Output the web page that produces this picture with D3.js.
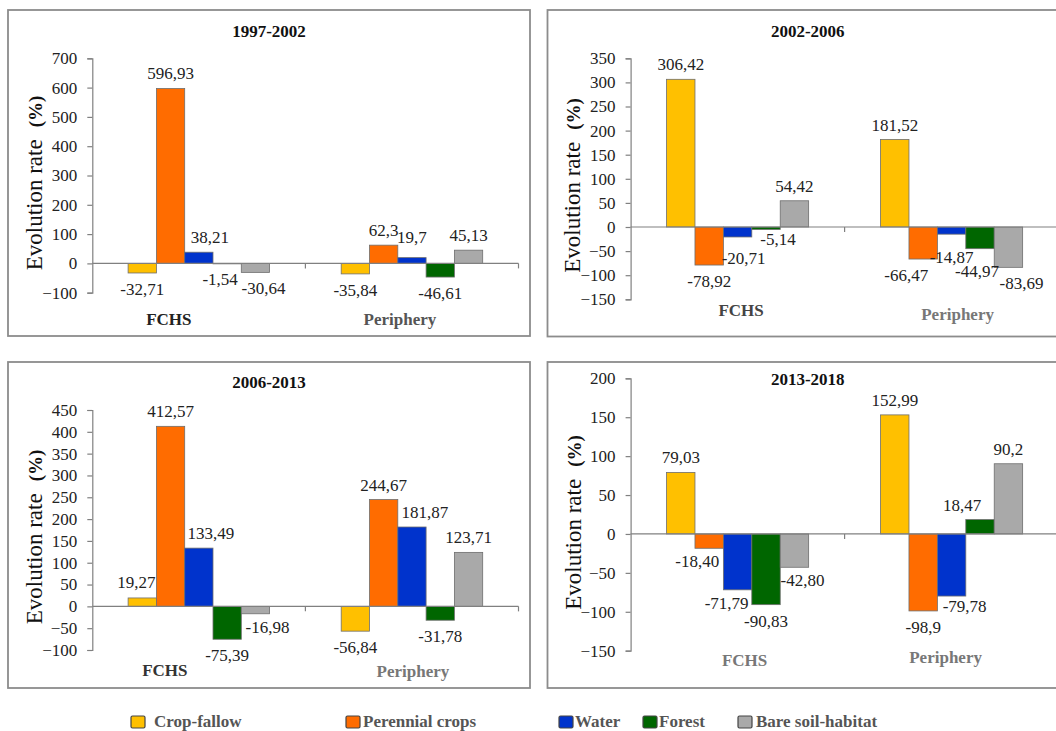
<!DOCTYPE html>
<html>
<head>
<meta charset="utf-8">
<script src="https://cdn.jsdelivr.net/npm/d3@7"></script>
<style>
  body { margin: 0; background: #fff; }
  svg { display: block; }
</style>
</head>
<body>
<div id="chart"></div>
<script>
// categories and series
const categories = ["FCHS", "Periphery"];
const seriesNames = ["Crop-fallow", "Perennial crops", "Water", "Forest", "Bare soil-habitat"];
const periods = ["1997-2002", "2002-2006", "2006-2013", "2013-2018"];

// evolution rates (%) as printed on the bars, one array per zone and period
const fchs9702 = ["-32,71", "596,93", "38,21", "-1,54", "-30,64"];
const peri9702 = ["-35,84", "62,3", "19,7", "-46,61", "45,13"];
const fchs0206 = ["306,42", "-78,92", "-20,71", "-5,14", "54,42"];
const peri0206 = ["181,52", "-66,47", "-14,87", "-44,97", "-83,69"];
const fchs0613 = ["19,27", "412,57", "133,49", "-75,39", "-16,98"];
const peri0613 = ["-56,84", "244,67", "181,87", "-31,78", "123,71"];
const fchs1318 = ["79,03", "-18,40", "-71,79", "-90,83", "-42,80"];
const peri1318 = ["152,99", "-98,9", "-79,78", "18,47", "90,2"];

// y axis tick values
const ticks9702 = [-100, 0, 100, 200, 300, 400, 500, 600, 700];
const ticks0206 = [-150, -100, -50, 0, 50, 100, 150, 200, 250, 300, 350];
const ticks0613 = [-100, -50, 0, 50, 100, 150, 200, 250, 300, 350, 400, 450];
const ticks1318 = [-150, -100, -50, 0, 50, 100, 150, 200];

const colors = ["#FFC000", "#FF6C00", "#0033CC", "#006600", "#A9A9A9"];
const serif = "'Liberation Serif', 'Times New Roman', serif";

const width = 1056, height = 731;

const svg = d3.select("#chart")
  .append("svg")
  .attr("width", width)
  .attr("height", height);

// layout of the four panels (pixels)
const panels = [
  { title: periods[0], rows: [fchs9702, peri9702], ticks: ticks9702,
    box: [8, 10, 530, 336], xr: [92.3, 518.5], yr: [292.7, 58.3], titleY: 37,
    labelC: [34.4, 183], catDx: [-30, -12], catY: [325, 325], catCol: ["#222", "#555"],
    nudge: { "0-2": [11, 0], "0-3": [-7, -1], "0-4": [8, 0], "1-2": [0, -6] } },
  { title: periods[1], rows: [fchs0206, peri0206], ticks: ticks0206,
    box: [547.5, 10, 1070, 336.5], xr: [630.6, 1058.6], yr: [299.3, 58.3], titleY: 37,
    labelC: [572, 185.5], catDx: [3.5, 6], catY: [316, 320], catCol: ["#444", "#777"],
    nudge: { "0-2": [6, 5], "0-3": [12, -6], "1-1": [-17, 0], "1-2": [0, 7], "1-3": [-3, 6], "1-4": [13, 0] } },
  { title: periods[2], rows: [fchs0613, peri0613], ticks: ticks0613,
    box: [8, 362, 530, 688], xr: [92.3, 518.5], yr: [650, 410], titleY: 388,
    labelC: [34.4, 537], catDx: [-34, 1], catY: [676, 677], catCol: ["#333", "#777"],
    nudge: { "0-0": [-6, -1], "0-2": [12, 0], "0-4": [12, -3], "1-2": [13, 0] } },
  { title: periods[3], rows: [fchs1318, peri1318], ticks: ticks1318,
    box: [547.5, 362, 1070, 688], xr: [630.6, 1058.6], yr: [650.7, 378.3], titleY: 385,
    labelC: [573, 522.5], catDx: [7, -6], catY: [666, 663], catCol: ["#777", "#777"],
    nudge: { "0-1": [-12, -3], "0-2": [-11, -3], "0-4": [8, -3], "1-2": [13, -6], "1-3": [-18, 0] } }
];

const num = s => +s.replace(",", ".");

panels.forEach(p => {
  const g = svg.append("g");

  // panel frame
  g.append("rect")
    .attr("x", p.box[0]).attr("y", p.box[1])
    .attr("width", p.box[2] - p.box[0]).attr("height", p.box[3] - p.box[1])
    .attr("fill", "none").attr("stroke", "#8c8c8c").attr("stroke-width", 1.8);

  // scales
  const y = d3.scaleLinear()
    .domain([p.ticks[0], p.ticks[p.ticks.length - 1]])
    .range(p.yr);
  const x0 = d3.scaleBand()
    .domain(categories)
    .range(p.xr);
  const bw = x0.bandwidth();
  const x1 = d3.scaleBand()
    .domain(seriesNames)
    .range([bw * 0.168, bw * 0.832]);

  // title
  g.append("text")
    .attr("x", (p.box[0] + Math.min(p.box[2], 1068)) / 2 + 0)
    .attr("y", p.titleY)
    .attr("text-anchor", "middle")
    .attr("font-family", serif).attr("font-weight", "bold").attr("font-size", 17)
    .attr("fill", "#111")
    .text(p.title);

  // y axis
  const yAxis = g.append("g")
    .attr("transform", `translate(${p.xr[0]},0)`)
    .call(d3.axisLeft(y).tickValues(p.ticks).tickSize(5).tickPadding(10).tickFormat(d3.format("d")));
  yAxis.selectAll("path, line").attr("stroke", "#808080").attr("stroke-width", 1.2);
  yAxis.selectAll("text")
    .attr("font-family", serif).attr("font-size", 17).attr("fill", "#222");

  // bars
  const bars = [];
  p.rows.forEach((row, ci) => {
    row.forEach((s, si) => {
      bars.push({ cat: categories[ci], ser: seriesNames[si], ci, si, v: num(s), label: s });
    });
  });

  g.selectAll("rect.bar")
    .data(bars)
    .join("rect")
    .attr("class", "bar")
    .attr("x", d => x0(d.cat) + x1(d.ser))
    .attr("y", d => y(Math.max(0, d.v)))
    .attr("width", x1.bandwidth())
    .attr("height", d => Math.abs(y(d.v) - y(0)))
    .attr("fill", d => colors[d.si])
    .attr("stroke", "#6e6e6e")
    .attr("stroke-width", 0.8);

  // x axis along zero, ticks at category boundaries
  const y0 = y(0);
  g.append("line")
    .attr("x1", p.xr[0]).attr("x2", p.xr[1])
    .attr("y1", y0).attr("y2", y0)
    .attr("stroke", "#808080").attr("stroke-width", 1.2);
  g.selectAll("line.ctick")
    .data(categories)
    .join("line")
    .attr("class", "ctick")
    .attr("x1", d => x0(d) + bw).attr("x2", d => x0(d) + bw)
    .attr("y1", y0).attr("y2", y0 + 5)
    .attr("stroke", "#808080").attr("stroke-width", 1.2);

  // value labels
  g.selectAll("text.val")
    .data(bars)
    .join("text")
    .attr("class", "val")
    .attr("x", d => {
      const n = p.nudge[`${d.ci}-${d.si}`] || [0, 0];
      return x0(d.cat) + x1(d.ser) + x1.bandwidth() / 2 + n[0];
    })
    .attr("y", d => {
      const n = p.nudge[`${d.ci}-${d.si}`] || [0, 0];
      return (d.v >= 0 ? y(d.v) - 9 : y(d.v) + 22) + n[1];
    })
    .attr("text-anchor", "middle")
    .attr("font-family", serif).attr("font-size", 17).attr("fill", "#222")
    .text(d => d.label);

  // category labels
  g.selectAll("text.cat")
    .data(categories)
    .join("text")
    .attr("class", "cat")
    .attr("x", (d, i) => x0(d) + bw / 2 + p.catDx[i])
    .attr("y", (d, i) => p.catY[i])
    .attr("text-anchor", "middle")
    .attr("font-family", serif).attr("font-weight", "bold").attr("font-size", 17)
    .attr("fill", (d, i) => p.catCol[i])
    .text(d => d);

  // y axis title
  const yl = g.append("text")
    .attr("transform", `translate(${p.labelC[0] + 8},${p.labelC[1]}) rotate(-90)`)
    .attr("text-anchor", "middle")
    .attr("font-family", serif).attr("fill", "#111");
  yl.append("tspan").attr("font-size", 23).text("Evolution rate");
  yl.append("tspan").attr("dx", 12).attr("font-size", 19).attr("font-weight", "bold").text("(%)");
});

// legend
const legendX = [131, 346, 559, 643, 738];
const legendTextX = [154, 363, 575, 659, 756];
const legend = svg.append("g");
legend.selectAll("rect")
  .data(seriesNames)
  .join("rect")
  .attr("x", (d, i) => legendX[i])
  .attr("y", 716)
  .attr("width", 14).attr("height", 12)
  .attr("rx", 1.5)
  .attr("fill", (d, i) => colors[i])
  .attr("stroke", "#444").attr("stroke-width", 1.2);
legend.selectAll("text")
  .data(seriesNames)
  .join("text")
  .attr("x", (d, i) => legendTextX[i])
  .attr("y", 727)
  .attr("font-family", serif).attr("font-weight", "bold").attr("font-size", 17)
  .attr("fill", "#555")
  .text(d => d);
</script>
</body>
</html>
